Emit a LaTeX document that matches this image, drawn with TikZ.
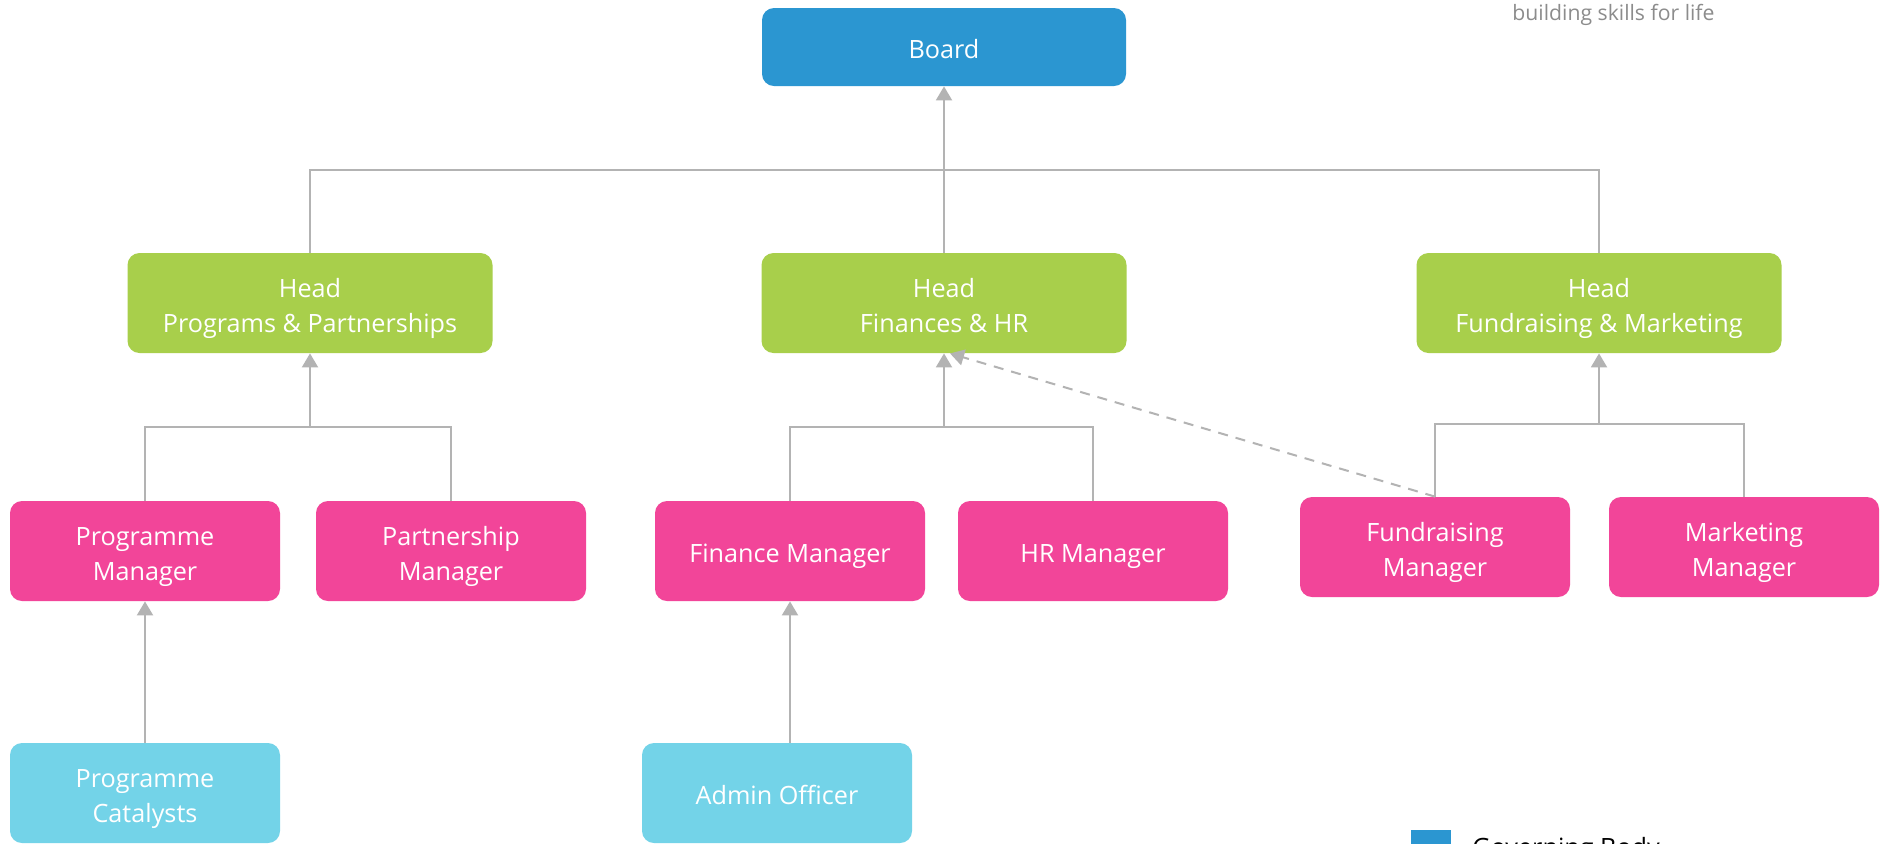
\documentclass[tikz,border=0pt]{standalone}
\usepackage{fontspec}
\setmainfont{Open Sans}
\usetikzlibrary{arrows.meta,positioning}
\definecolor{boardblue}{HTML}{2B96D1}
\definecolor{headgreen}{HTML}{A8CF4B}
\definecolor{mgrpink}{HTML}{F24599}
\definecolor{staffblue}{HTML}{73D3E8}
\definecolor{linegray}{HTML}{B3B3B3}
\definecolor{taggray}{HTML}{8C8C8C}
% box text, one or two lines
\newcommand{\boxlines}[1]{\raisebox{0pt}[\dimexpr\height-0.75pt\relax][0pt]{\begin{tabular}[b]{@{}c@{}}#1\end{tabular}}}

\begin{document}
\begin{tikzpicture}[
x=0.5pt, y=-0.5pt,
font=\fontsize{12.6}{17.5}\selectfont,
box/.style={rounded corners=6pt, text=white, inner sep=0pt, minimum height=50pt},
board/.style={box, fill=boardblue, minimum width=182pt, minimum height=39pt},
head/.style={box, fill=headgreen, minimum width=182.5pt},
manager/.style={box, fill=mgrpink, minimum width=135pt},
staff/.style={box, fill=staffblue, minimum width=135pt},
link/.style={draw=linegray, line width=1pt},
uplink/.style={link, -{Triangle[width=8pt,length=7pt]}},
sidelink/.style={uplink, dash pattern=on 5pt off 4pt}
]
    % Page frame
    \clip (0,0) rectangle (1888,843);
    \fill[white] (0,0) rectangle (1888,843);

    % Tag line
    \node[anchor=base west, inner sep=0pt, text=taggray, font=\fontsize{10.6}{12}\selectfont]
        (tag) at (1512,20) {building skills for life};

    % Boxes
    \node[board] (board) at (944,47) {\boxlines{Board}};

    \node[head] (hpp) at (310,303) {\boxlines{Head\\Programs \& Partnerships}};
    \node[head] (hfh) at (944,303) {\boxlines{Head\\Finances \& HR}};
    \node[head] (hfm) at (1599,303) {\boxlines{Head\\Fundraising \& Marketing}};

    \node[manager] (progm) at (145,551) {\boxlines{Programme\\Manager}};
    \node[manager] (partm) at (451,551) {\boxlines{Partnership\\Manager}};
    \node[manager] (finm) at (790,551) {\boxlines{Finance Manager}};
    \node[manager] (hrm) at (1093,551) {\boxlines{HR Manager}};
    \node[manager] (fundm) at (1435,547) {\boxlines{Fundraising\\Manager}};
    \node[manager] (markm) at (1744,547) {\boxlines{Marketing\\Manager}};

    \node[staff] (progc) at (145,793) {\boxlines{Programme\\Catalysts}};
    \node[staff] (admin) at (777,793) {\boxlines{Admin Officer}};

    % Junctions
    \coordinate (jtop) at (944,170);
    \coordinate (jpp) at (310,427);
    \coordinate (jfh) at (944,427);
    \coordinate (jfm) at (1599,424);

    % Heads to board
    \draw[uplink] (hfh.north) -- (board.south);
    \draw[link] (hpp.north) |- (jtop) -| (hfm.north);

    % Managers to heads
    \draw[uplink] (jpp) -- (hpp.south);
    \draw[link] (progm.north) |- (jpp) -| (partm.north);
    \draw[uplink] (jfh) -- (hfh.south);
    \draw[link] (finm.north) |- (jfh) -| (hrm.north);
    \draw[uplink] (jfm) -- (hfm.south);
    \draw[link] (fundm.north) |- (jfm) -| (markm.north);
    \draw[sidelink] (fundm.north) -- ([xshift=3pt]hfh.south);

    % Staff to managers
    \draw[uplink] (progc.north) -- (progm.south);
    \draw[uplink] (admin.north -| finm.south) -- (finm.south);

    % Legend
    \fill[boardblue] (1411,830) rectangle (1451,870);
    \node[anchor=base west, inner sep=0pt] (legend) at (1472,856) {Governing Body};
\end{tikzpicture}
\end{document}
